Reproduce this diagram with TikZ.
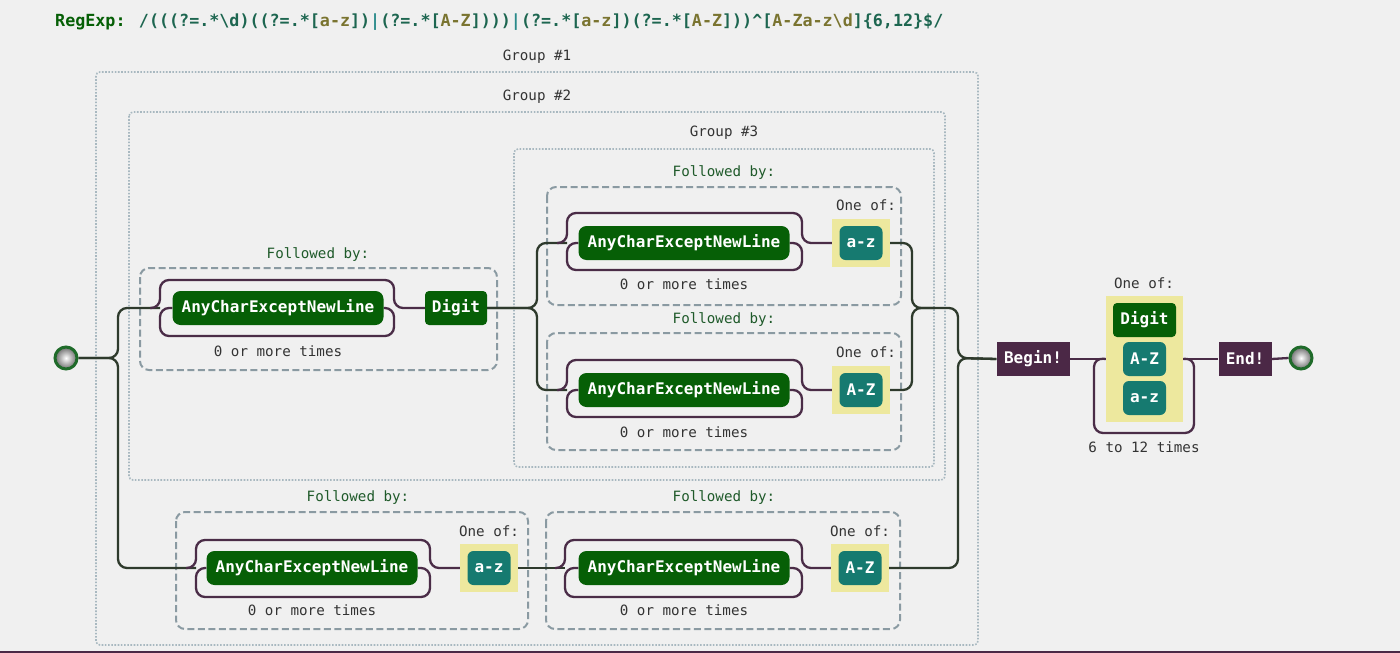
\documentclass[tikz,border=0pt]{standalone}
\usepackage{fontspec}
\newfontfamily\mono{DejaVu Sans Mono}
\definecolor{bgc}{HTML}{F0F0F0}
\definecolor{dkgreen}{HTML}{065F06}
\definecolor{tealn}{HTML}{167A70}
\definecolor{yelb}{HTML}{EDE89E}
\definecolor{purp}{HTML}{4B2846}
\definecolor{linec}{HTML}{2E3A2C}
\definecolor{loopc}{HTML}{4A2C47}
\definecolor{grpc}{HTML}{A8B8C0}
\definecolor{fbc}{HTML}{8A9AA2}
\definecolor{fbtext}{HTML}{1F5A2A}
\definecolor{txt}{HTML}{333333}
\definecolor{rxa}{HTML}{1D6650}
\definecolor{rxb}{HTML}{7A7430}
\definecolor{rxc}{HTML}{2A8A8A}
\definecolor{ring}{HTML}{1F6B2A}
\pgfdeclarelayer{background}
\pgfsetlayers{background,main}
\tikzset{
  nfont/.style={font=\mono\bfseries\fontsize{16}{19}\selectfont},
  lfont/.style={font=\mono\fontsize{14.2}{17}\selectfont},
  anyn/.style={nfont, fill=dkgreen, text=white, rounded corners=8, minimum width=211, minimum height=34, inner sep=0},
  dign/.style={nfont, fill=dkgreen, text=white, rounded corners=4, minimum width=62, minimum height=34, inner sep=0},
  rngn/.style={nfont, fill=tealn, text=white, rounded corners=6, minimum width=43, minimum height=34, inner sep=0},
  yelbox/.style={fill=yelb, minimum width=58, minimum height=48, inner sep=0},
  anc/.style={nfont, fill=purp, text=white, minimum height=34, inner sep=0},
  fbl/.style={lfont, text=fbtext},
  lbl/.style={lfont, text=txt},
  conn/.style={draw=linec, line width=2.3, rounded corners=9},
  loopl/.style={draw=loopc, line width=2.3, rounded corners=9},
  grp/.style={draw=grpc, line width=1.6, dash pattern=on 1.6 off 1.6, rounded corners=4},
  fbox/.style={draw=fbc, line width=2, dash pattern=on 7 off 3.5, rounded corners=9},
  term/.style={circle, minimum size=22, inner sep=0, draw=ring, line width=3, inner color=white, outer color=gray!85!black},
}
\begin{document}
\begin{tikzpicture}[x=1pt,y=-1pt]
\useasboundingbox (0,0) rectangle (1400,653);
% ---------- title
\node[anchor=west, inner sep=0, font=\mono\bfseries\fontsize{16.7}{20}\selectfont] (title) at (55,22)
 {\textcolor{dkgreen}{RegExp:} \textcolor{rxa}{/(((?=.*\textbackslash d)((?=.*[}\textcolor{rxb}{a-z}\textcolor{rxa}{])}\textcolor{rxc}{|}\textcolor{rxa}{(?=.*[}\textcolor{rxb}{A-Z}\textcolor{rxa}{])))}\textcolor{rxc}{|}\textcolor{rxa}{(?=.*[}\textcolor{rxb}{a-z}\textcolor{rxa}{])(?=.*[}\textcolor{rxb}{A-Z}\textcolor{rxa}{]))\textasciicircum[}\textcolor{rxb}{A-Za-z\textbackslash d}\textcolor{rxa}{]\{6,12\}\$/}};

% ---------- labels
\node[lbl] (g1l) at (537,57) {Group \#1};
\node[lbl] (g2l) at (537,97) {Group \#2};
\node[lbl] (g3l) at (724,133) {Group \#3};

\node[fbl] (fb1l) at (318,255) {Followed by:};
\node[fbl] (fb2l) at (724,173) {Followed by:};
\node[fbl] (fb3l) at (724,320) {Followed by:};
\node[fbl] (fb4l) at (358,498) {Followed by:};
\node[fbl] (fb5l) at (724,498) {Followed by:};

% ---------- row 1
\node[anyn] (a1) at (278,308) {AnyCharExceptNewLine};
\node[lbl] (t1) at (278,351) {0 or more times};
\node[dign] (d1) at (456,308) {Digit};

% ---------- group 3 upper
\node[anyn] (a2) at (684,243) {AnyCharExceptNewLine};
\node[lbl] (t2) at (684,284) {0 or more times};
\node[lbl] (o2) at (866,205) {One of:};
\node[yelbox] (y2) at (861,243) {};
\node[rngn] (r2) at (861,243) {a-z};

% ---------- group 3 lower
\node[anyn] (a3) at (684,390) {AnyCharExceptNewLine};
\node[lbl] (t3) at (684,432) {0 or more times};
\node[lbl] (o3) at (866,352) {One of:};
\node[yelbox] (y3) at (861,390) {};
\node[rngn] (r3) at (861,390) {A-Z};

% ---------- bottom row
\node[anyn] (a4) at (312,568) {AnyCharExceptNewLine};
\node[lbl] (t4) at (312,610) {0 or more times};
\node[lbl] (o4) at (489,531) {One of:};
\node[yelbox] (y4) at (489,568) {};
\node[rngn] (r4) at (489,568) {a-z};

\node[anyn] (a5) at (684,568) {AnyCharExceptNewLine};
\node[lbl] (t5) at (684,610) {0 or more times};
\node[lbl] (o5) at (860,531) {One of:};
\node[yelbox] (y5) at (860,568) {};
\node[rngn] (r5) at (860,568) {A-Z};

% ---------- right part
\node[anc, minimum width=73] (bg) at (1033,359) {Begin!};
\node[lbl] (o6) at (1144,283) {One of:};
\node[fill=yelb, minimum width=77, minimum height=126, inner sep=0] (yb) at (1144.5,359) {};
\node[dign, minimum width=63] (d6) at (1144.5,320) {Digit};
\node[rngn] (r6) at (1144.5,359) {A-Z};
\node[rngn] (r7) at (1144.5,398) {a-z};
\node[lbl] (t6) at (1144,447) {6 to 12 times};
\node[anc, minimum width=53] (en) at (1245,359) {End!};

% ---------- terminals
\node[term] (st) at (66,358) {};
\node[term] (fin) at (1301,358) {};

\begin{pgfonlayer}{background}
\fill[bgc] (0,0) rectangle (1400,653);
\fill[purp] (0,651) rectangle (1400,653);
% groups
\draw[grp] (96,72) rectangle (978,645);
\draw[grp] (129,112) rectangle (945,480);
\draw[grp] (514,149) rectangle (934,467);
% followed-by boxes
\draw[fbox] (140,268) rectangle (497,370);
\draw[fbox] (547,187) rectangle (901,305);
\draw[fbox] (547,333) rectangle (901,450);
\draw[fbox] (176,512) rectangle (528,629);
\draw[fbox] (546,512) rectangle (900,629);

% start split
\draw[conn] (st.east) -- (118,358) -- (118,308) -- (160,308);
\draw[conn] (st.east) -- (118,358) -- (118,568) -- (196,568);

% loop 1
\draw[loopl] (150,308) -- (160,308) -- (160,280) -- (394,280) -- (394,308) -- (d1.west);
\draw[loopl] (a1.west) -- (160,308) -- (160,336) -- (394,336) -- (394,308) -- (a1.east);
% split after digit
\draw[conn] (d1.east) -- (537,308) -- (537,243) -- (567,243);
\draw[conn] (d1.east) -- (537,308) -- (537,390) -- (567,390);

% loop 2
\draw[loopl] (557,243) -- (567,243) -- (567,213) -- (802,213) -- (802,243) -- (y2.west);
\draw[loopl] (a2.west) -- (567,243) -- (567,270) -- (802,270) -- (802,243) -- (a2.east);
% loop 3
\draw[loopl] (557,390) -- (567,390) -- (567,360) -- (802,360) -- (802,390) -- (y3.west);
\draw[loopl] (a3.west) -- (567,390) -- (567,417) -- (802,417) -- (802,390) -- (a3.east);
% join group 3
\draw[conn] (y2.east) -- (912,243) -- (912,308) -- (958,308) -- (958,358) -- (bg.west);
\draw[conn] (y3.east) -- (912,390) -- (912,308) -- (935,308);

% loop 4
\draw[loopl] (186,568) -- (196,568) -- (196,540) -- (430,540) -- (430,568) -- (y4.west);
\draw[loopl] (a4.west) -- (196,568) -- (196,597) -- (430,597) -- (430,568) -- (a4.east);
\draw[conn] (y4.east) -- (565,568);
% loop 5
\draw[loopl] (555,568) -- (565,568) -- (565,540) -- (802,540) -- (802,568) -- (y5.west);
\draw[loopl] (a5.west) -- (565,568) -- (565,597) -- (802,597) -- (802,568) -- (a5.east);
\draw[conn] (y5.east) -- (958,568) -- (958,358) -- (bg.west);

% right part
\draw[loopl] (bg.east) -- (yb.west);
\draw[loopl] (yb.east) -- (1194,358) -- (1194,433) -- (1094,433) -- (1094,358) -- (yb.west);
\draw[loopl] (yb.east) -- (en.west);
\draw[loopl] (en.east) -- (fin.west);
\end{pgfonlayer}
\end{tikzpicture}
\end{document}
